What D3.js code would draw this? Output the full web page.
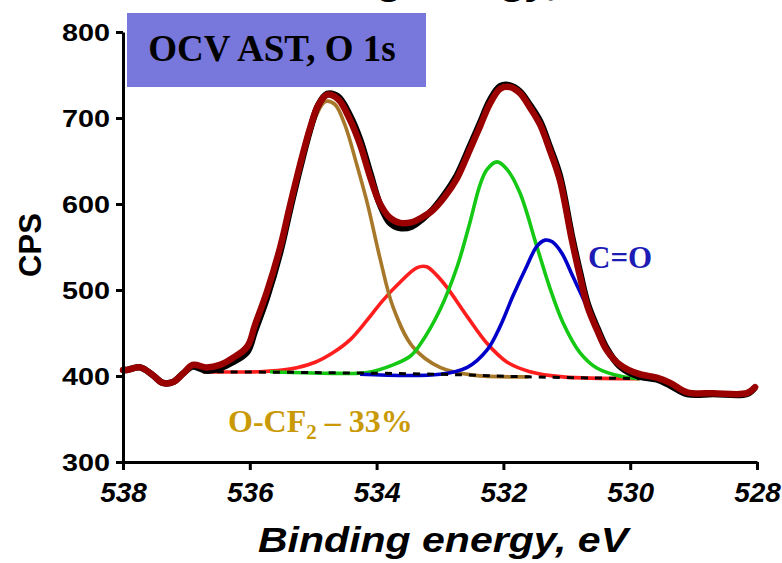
<!DOCTYPE html>
<html>
<head>
<meta charset="utf-8">
<script src="https://cdn.jsdelivr.net/npm/d3@7"></script>
<style>
  html, body { margin: 0; padding: 0; background: #fff; }
  svg { display: block; }
</style>
</head>
<body>
<svg id="chart" width="782" height="563"></svg>
<script>
// ---- Data (binding energy in eV, intensity in CPS) ----
const xTicks = [538, 536, 534, 532, 530, 528];
const yTicks = [300, 400, 500, 600, 700, 800];

const envelope = [
  [538.0,407],[537.94,407],[537.73,410],[537.53,401],[537.37,392],[537.21,393],[537.05,403],
  [536.9,413],[536.68,410],[536.47,413],[536.27,421],[536.04,434],[535.92,459],[535.73,498],
  [535.52,550],[535.37,597],[535.21,645],[535.05,688],[534.92,715],[534.78,727],[534.61,722],
  [534.42,698],[534.26,669],[534.1,631],[533.95,601],[533.79,584],[533.63,578],[533.44,579],
  [533.27,585],[533.11,593],[532.92,609],[532.73,630],[532.53,663],[532.37,690],[532.21,717],
  [532.05,734],[531.9,736],[531.74,729],[531.58,712],[531.42,692],[531.27,663],[531.11,628],
  [530.92,558],[530.79,515],[530.67,480],[530.52,453],[530.37,430],[530.16,413],[529.89,403],
  [529.58,398],[529.37,392],[529.1,381],[528.69,380],[528.16,380],[528.03,387]
];

const rawData = [
  [538.0,407],[537.94,407],[537.73,410],[537.53,401],[537.37,392],[537.21,393],[537.05,403],
  [536.9,411],[536.68,406],[536.47,409],[536.27,416],[536.04,428],[535.92,452],[535.73,491],
  [535.52,544],[535.37,592],[535.21,641],[535.05,686],[534.92,715],[534.78,728],[534.61,725],
  [534.42,703],[534.26,675],[534.1,636],[533.95,600],[533.79,578],[533.63,572],[533.44,574],
  [533.27,583],[533.11,594],[532.92,612],[532.73,634],[532.53,667],[532.37,694],[532.21,721],
  [532.05,737],[531.9,738],[531.74,731],[531.58,715],[531.42,696],[531.27,667],[531.11,633],
  [530.92,563],[530.79,520],[530.67,484],[530.52,456],[530.37,432],[530.16,411],[529.89,400],
  [529.58,396],[529.37,389],[529.1,379],[528.69,379],[528.16,379],[528.03,387]
];

const peakOCF2 = [ // brown
  [536.74,405],[536.55,409],[536.15,427],[535.84,465],[535.52,541],[535.29,616],[535.05,684],
  [534.81,719],[534.66,716],[534.5,692],[534.31,645],[534.14,599],[533.95,538],[533.74,480],
  [533.43,434],[533.0,410],[532.48,401],[531.6,399]
];

const peakRed = [
  [536.74,405],[535.84,405],[535.37,408],[534.97,416],[534.69,427],[534.42,442],[534.15,465],
  [533.9,488],[533.63,509],[533.36,526],[533.21,527],[533.05,517],[532.89,503],[532.57,469],
  [532.26,438],[531.94,416],[531.58,405],[531.06,399],[529.85,397]
];

const peakGreen = [
  [535.68,405],[534.58,403],[534.15,404],[533.74,413],[533.47,423],[533.32,436],[533.0,477],
  [532.73,527],[532.53,578],[532.37,622],[532.26,640],[532.1,649],[531.94,640],[531.74,613],
  [531.47,550],[531.27,503],[531.06,462],[530.79,427],[530.52,409],[530.11,399],[529.85,397]
];

const peakCO = [ // blue
  [534.26,402],[533.0,402],[532.57,410],[532.26,430],[532.05,458],[531.85,493],[531.63,528],
  [531.47,551],[531.34,558],[531.23,556],[531.08,543],[530.9,515],[530.68,480],[530.48,445],
  [530.27,422],[530.05,407],[529.85,399]
];

const baseline = [[536.74,405],[535.0,404],[533.0,402],[531.6,399],[529.85,397]];

// ---- Drawing ----
const svg = d3.select("#chart");
const x = d3.scaleLinear().domain([538, 528]).range([123, 757]);
const y = d3.scaleLinear().domain([300, 800]).range([462, 32]);

const sans = "'Liberation Sans', Arial, Helvetica, sans-serif";
const serif = "'Liberation Serif', 'Times New Roman', Times, serif";

// cut-off text at the very top (only descenders visible, as in the reference)
svg.append("text")
  .attr("x", 437).attr("y", -5)
  .attr("text-anchor", "middle")
  .attr("font-family", sans).attr("font-weight", "bold").attr("font-style", "italic")
  .attr("font-size", 35)
  .attr("textLength", 370).attr("lengthAdjust", "spacingAndGlyphs")
  .text("Binding energy, eV");

const line = d3.line()
  .x(d => x(d[0])).y(d => y(d[1]))
  .curve(d3.curveCatmullRom.alpha(0.5));

const comps = [
  { data: peakRed, color: "#ff1e1e" },
  { data: peakOCF2, color: "#a8782a" },
  { data: peakGreen, color: "#14c814" },
  { data: peakCO, color: "#0000c8" }
];
comps.forEach(c => {
  svg.append("path").datum(c.data)
    .attr("d", line).attr("fill", "none")
    .attr("stroke", c.color).attr("stroke-width", 3.6)
    .attr("stroke-linejoin", "round");
});

svg.append("path").datum(baseline)
  .attr("d", line).attr("fill", "none")
  .attr("stroke", "#000").attr("stroke-width", 3)
  .attr("stroke-dasharray", "7,7");

svg.append("path").datum(rawData)
  .attr("d", line).attr("fill", "none")
  .attr("stroke", "#000").attr("stroke-width", 6.5)
  .attr("stroke-linejoin", "round");

svg.append("path").datum(envelope)
  .attr("d", line).attr("fill", "none")
  .attr("stroke", "#9a0000").attr("stroke-width", 6.5)
  .attr("stroke-linejoin", "round").attr("stroke-linecap", "round");

// ---- Axes ----
const gx = svg.append("g").attr("transform", `translate(0,${y(300)})`)
  .call(d3.axisBottom(x).tickValues(xTicks).tickSize(8).tickSizeOuter(0).tickFormat(d3.format("d")));
gx.select(".domain").attr("stroke", "#000").attr("stroke-width", 3);
gx.selectAll(".tick line").attr("stroke", "#000").attr("stroke-width", 3);
gx.selectAll(".tick text")
  .attr("y", 40).attr("dy", 0)
  .attr("font-family", sans).attr("font-weight", "bold").attr("font-style", "italic")
  .attr("font-size", 28).attr("fill", "#000");

const gy = svg.append("g").attr("transform", `translate(${x(538)},0)`)
  .call(d3.axisLeft(y).tickValues(yTicks).tickSize(7).tickSizeOuter(0).tickFormat(d3.format("d")));
gy.select(".domain").attr("stroke", "#000").attr("stroke-width", 3);
gy.selectAll(".tick line").attr("stroke", "#000").attr("stroke-width", 3);
gy.selectAll(".tick text")
  .attr("x", 0).attr("dy", "0.36em")
  .attr("transform", "translate(-13,0) scale(1.2,1)")
  .attr("font-family", sans).attr("font-weight", "bold")
  .attr("font-size", 24).attr("fill", "#000");

// axis titles
svg.append("text")
  .attr("x", 443).attr("y", 552)
  .attr("text-anchor", "middle")
  .attr("font-family", sans).attr("font-weight", "bold").attr("font-style", "italic")
  .attr("font-size", 35)
  .attr("textLength", 370).attr("lengthAdjust", "spacingAndGlyphs")
  .text("Binding energy, eV");

svg.append("text")
  .attr("transform", "translate(41,245) rotate(-90)")
  .attr("text-anchor", "middle")
  .attr("font-family", sans).attr("font-weight", "bold")
  .attr("font-size", 31)
  .text("CPS");

// title box
svg.append("rect")
  .attr("x", 127).attr("y", 13).attr("width", 299).attr("height", 74)
  .attr("fill", "#7878dc");
svg.append("text")
  .attr("x", 272).attr("y", 61)
  .attr("text-anchor", "middle")
  .attr("font-family", serif).attr("font-weight", "bold")
  .attr("font-size", 37).attr("fill", "#000")
  .text("OCV AST, O 1s");

// annotations
svg.append("text")
  .attr("x", 588).attr("y", 268)
  .attr("font-family", serif).attr("font-weight", "bold")
  .attr("font-size", 31).attr("fill", "#1c1cb4")
  .text("C=O");

const ocf = svg.append("text")
  .attr("x", 228).attr("y", 432)
  .attr("font-family", serif).attr("font-weight", "bold")
  .attr("font-size", 32).attr("fill", "#c99a06");
ocf.append("tspan").text("O-CF");
ocf.append("tspan").attr("font-size", 21).attr("dy", 7).text("2");
ocf.append("tspan").attr("dy", -7).text(" \u2013 33%");
</script>
</body>
</html>
